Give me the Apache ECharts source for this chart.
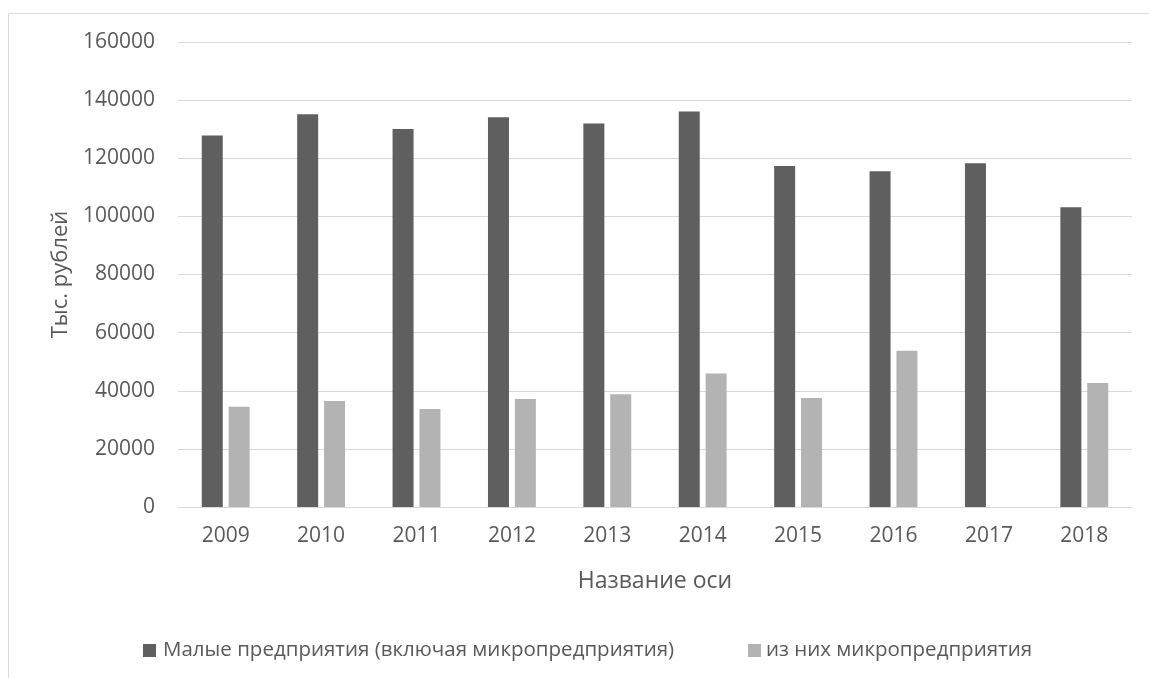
<!DOCTYPE html>
<html>
<head>
<meta charset="utf-8">
<script src="https://cdn.jsdelivr.net/npm/echarts@6/dist/echarts.min.js"></script>
<style>
  html, body { margin: 0; padding: 0; background: #ffffff; }
  #chart { width: 1149px; height: 678px; }
</style>
</head>
<body>
<div id="chart"></div>
<script>
// Годы
const years = ['2009', '2010', '2011', '2012', '2013', '2014', '2015', '2016', '2017', '2018'];
// Малые предприятия (включая микропредприятия), тыс. рублей
const smallEnterprises = [127800, 135100, 130100, 134100, 132000, 136100, 117300, 115500, 118300, 103100];
// из них микропредприятия, тыс. рублей (за 2017 год данных нет)
const microEnterprises = [34500, 36500, 33700, 37200, 38800, 45900, 37500, 53800, null, 42700];

const seriesNames = ['Малые предприятия (включая микропредприятия)', 'из них микропредприятия'];
const textColor = '#595959';
const fontFamily = '"Open Sans", "Noto Sans", sans-serif';

const chart = echarts.init(document.getElementById('chart'), null, { renderer: 'canvas' });

chart.setOption({
  backgroundColor: '#ffffff',
  animation: false,
  textStyle: { fontFamily: fontFamily, color: textColor },
  graphic: [{
    type: 'rect',
    shape: { x: 8.5, y: 13.5, width: 1200, height: 700 },
    style: { fill: 'none', stroke: '#d9d9d9', lineWidth: 1 },
    silent: true,
    z: -1
  }],
  grid: { left: 178, right: 17, top: 42, bottom: 171, containLabel: false },
  legend: [{
    data: [seriesNames[0]],
    left: 143, top: 640, padding: 0,
    itemWidth: 13, itemHeight: 13, itemGap: 0,
    icon: 'rect',
    textStyle: { fontFamily: fontFamily, fontSize: 20.5, color: textColor, padding: [0, 0, 0, 2] }
  }, {
    data: [seriesNames[1]],
    left: 748, top: 640, padding: 0,
    itemWidth: 13, itemHeight: 13, itemGap: 0,
    icon: 'rect',
    textStyle: { fontFamily: fontFamily, fontSize: 20.5, color: textColor, padding: 0 }
  }],
  xAxis: {
    type: 'category',
    data: years,
    name: 'Название оси',
    nameLocation: 'middle',
    nameGap: 63,
    nameTextStyle: { fontFamily: fontFamily, fontSize: 23, color: textColor },
    axisLine: { lineStyle: { color: '#d9d9d9', width: 1 } },
    axisTick: { show: false },
    axisLabel: { fontFamily: fontFamily, fontSize: 21, color: textColor, margin: 19 }
  },
  yAxis: {
    type: 'value',
    min: 0,
    max: 160000,
    interval: 20000,
    name: 'Тыс. рублей',
    nameLocation: 'middle',
    nameGap: 106,
    nameTextStyle: { fontFamily: fontFamily, fontSize: 22, color: textColor },
    axisLine: { show: false },
    axisTick: { show: false },
    splitLine: { lineStyle: { color: '#d9d9d9', width: 1 } },
    axisLabel: {
      fontFamily: fontFamily, fontSize: 21, color: textColor, margin: 23,
      formatter: (v) => String(v)
    }
  },
  series: [{
    name: seriesNames[0],
    type: 'bar',
    data: smallEnterprises,
    barWidth: 21,
    barGap: '28%',
    itemStyle: { color: '#5f5f5f' }
  }, {
    name: seriesNames[1],
    type: 'bar',
    data: microEnterprises,
    barWidth: 21,
    barGap: '28%',
    itemStyle: { color: '#b3b3b3' }
  }]
});
</script>
</body>
</html>
